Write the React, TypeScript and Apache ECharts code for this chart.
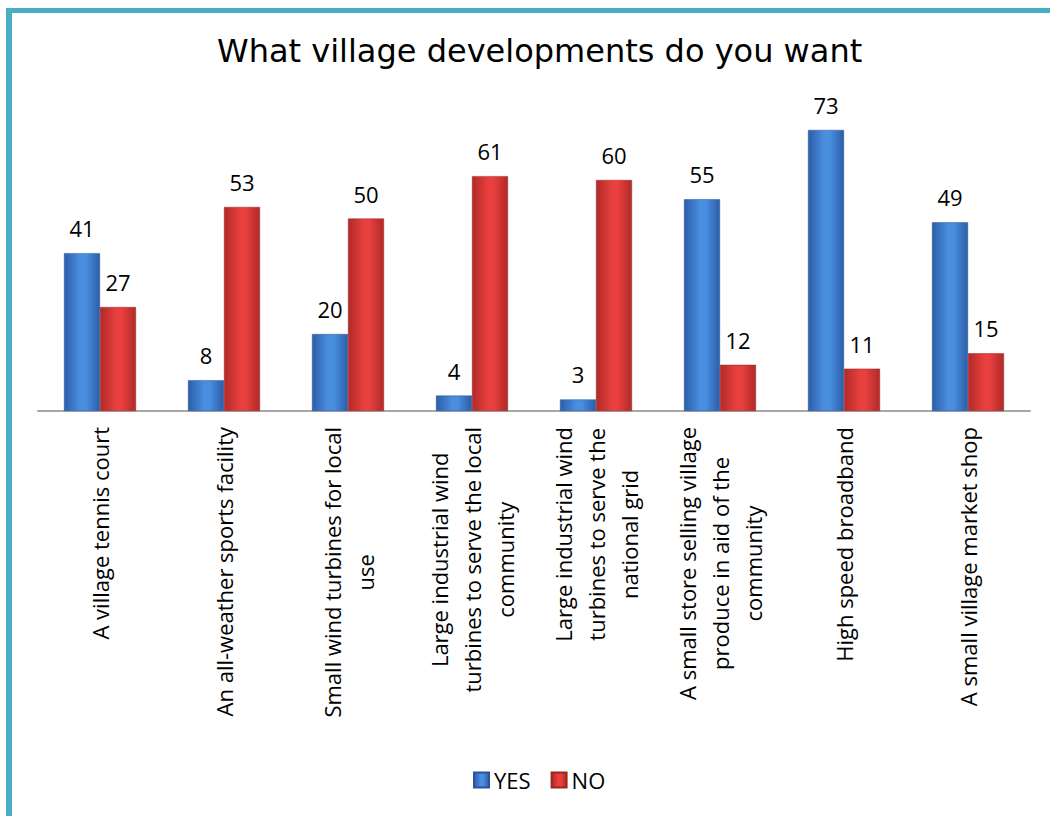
import React, { useEffect, useRef } from "react";
import * as echarts from "echarts";

const categories = [
  "A village tennis court",
  "An all-weather sports facility",
  "Small wind turbines for local\nuse",
  "Large industrial wind\nturbines to serve the local\ncommunity",
  "Large industrial wind\nturbines to serve the\nnational grid",
  "A small store selling village\nproduce in aid of the\ncommunity",
  "High speed broadband",
  "A small village market shop",
];
const yesValues = [41, 8, 20, 4, 3, 55, 73, 49];
const noValues = [27, 53, 50, 61, 60, 12, 11, 15];
const seriesNames = ["YES", "NO"];
const titleText = "What village developments do you want";

const FONT = "'Open Sans', 'DejaVu Sans', sans-serif";

function hGrad(edge: string, mid: string) {
  return new echarts.graphic.LinearGradient(0, 0, 1, 0, [
    { offset: 0, color: edge },
    { offset: 0.45, color: mid },
    { offset: 0.6, color: mid },
    { offset: 1, color: edge },
  ]);
}

export default function App() {
  const ref = useRef<HTMLDivElement>(null);
  useEffect(() => {
    if (!ref.current) return;
    const chart = echarts.init(ref.current, undefined, { renderer: "svg" });
    const labelStyle = {
      show: true,
      position: "top" as const,
      distance: 14,
      color: "#000",
      fontSize: 22,
      fontFamily: FONT,
    };
    chart.setOption({
      animation: false,
      backgroundColor: "#ffffff",
      title: {
        text: titleText,
        left: 212,
        top: 30,
        textStyle: {
          fontFamily: "'DejaVu Sans', sans-serif",
          fontWeight: "normal",
          fontSize: 32,
          color: "#000",
        },
      },
      legend: {
        data: seriesNames,
        bottom: 20,
        left: 468,
        itemWidth: 15,
        itemHeight: 15,
        itemGap: 20,
        icon: "rect",
        textStyle: { fontFamily: FONT, fontSize: 22, color: "#000" },
      },
      grid: { left: 38, right: 20, top: 103, bottom: 405, containLabel: false },
      xAxis: {
        type: "category",
        data: categories,
        axisLine: { show: true, lineStyle: { color: "#a6a6a6", width: 2 } },
        axisTick: { show: false },
        axisLabel: {
          rotate: 90,
          interval: 0,
          margin: 16,
          color: "#000",
          fontFamily: FONT,
          fontSize: 22,
          lineHeight: 33,
          formatter: (v: string) =>
            v.split("\n").map((l) => `{c|${l}}`).join("\n"),
          rich: {
            c: {
              align: "center",
              fontFamily: FONT,
              fontSize: 22,
              lineHeight: 33,
              color: "#000",
            },
          },
        },
      },
      yAxis: {
        type: "value",
        min: 0,
        max: 80,
        show: false,
        splitLine: { show: false },
      },
      graphic: [
        { type: "rect", shape: { x: 6, y: 8, width: 6, height: 808 }, style: { fill: "#4bacc6" }, z: 100 },
        { type: "rect", shape: { x: 6, y: 8, width: 1044, height: 5 }, style: { fill: "#4bacc6" }, z: 100 },
      ],
      series: [
        {
          name: seriesNames[0],
          type: "bar",
          data: yesValues,
          barWidth: 36,
          barGap: "0%",
          itemStyle: { color: hGrad("#2c5ea8", "#4a8ee0"), borderColor: "#2a5497", borderWidth: 0.5 },
          label: labelStyle,
        },
        {
          name: seriesNames[1],
          type: "bar",
          data: noValues,
          barWidth: 36,
          barGap: "0%",
          itemStyle: { color: hGrad("#b02a28", "#e8403e"), borderColor: "#9c2422", borderWidth: 0.5 },
          label: labelStyle,
        },
      ],
    });
    return () => chart.dispose();
  }, []);
  return (
    <div
      ref={ref}
      style={{ position: "absolute", left: 0, top: 0, width: 1050, height: 816 }}
    />
  );
}
